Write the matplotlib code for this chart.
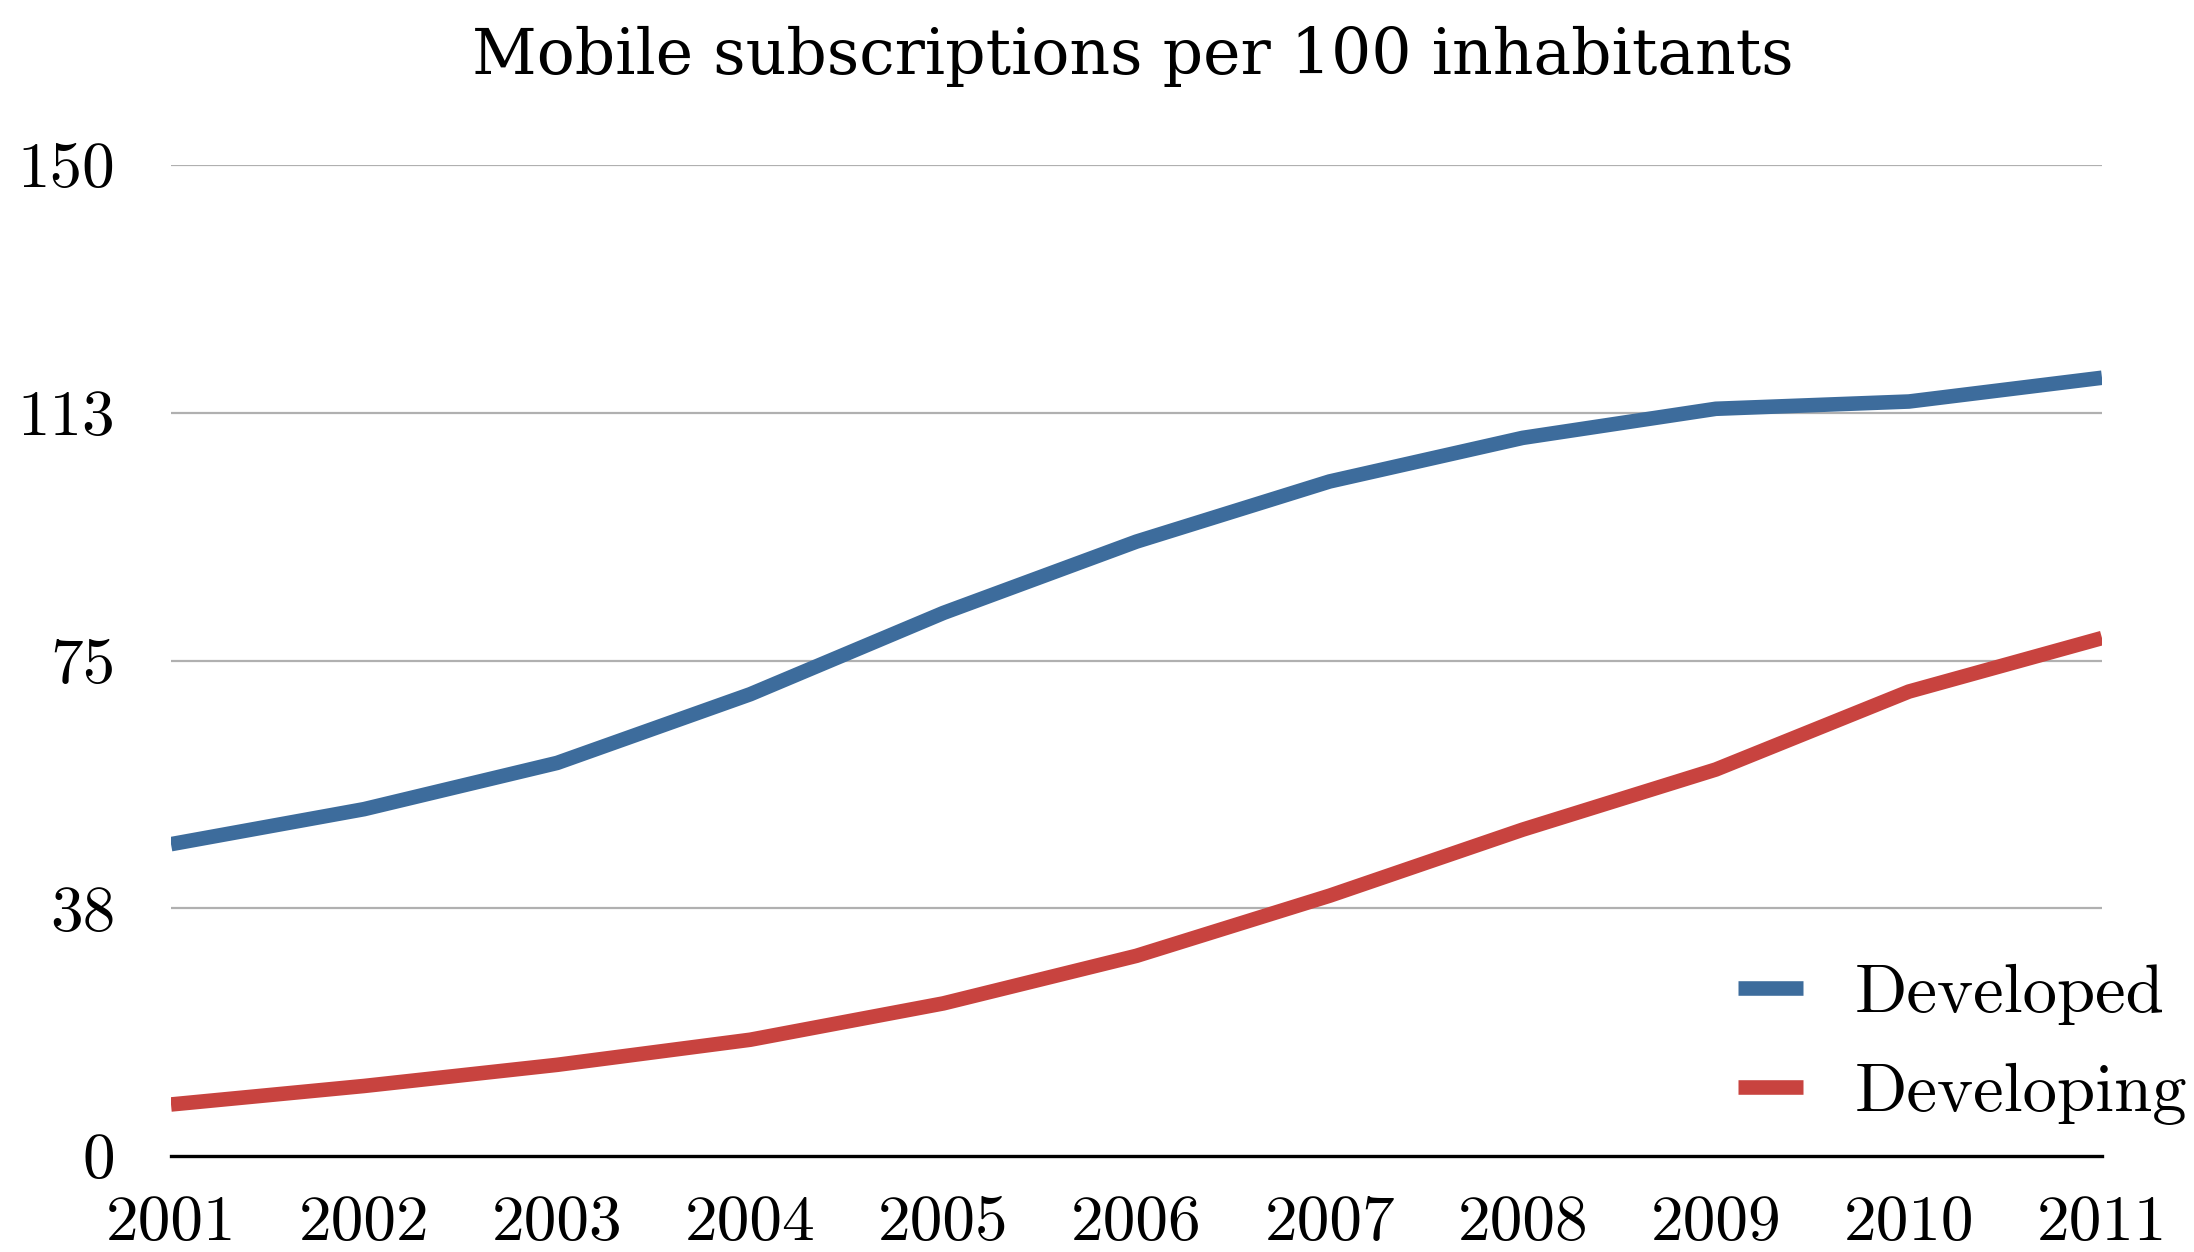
import matplotlib
matplotlib.use("Agg")
import matplotlib.pyplot as plt

years = [2001, 2002, 2003, 2004, 2005, 2006, 2007, 2008, 2009, 2010, 2011]
developed = [47.2, 52.5, 59.5, 69.9, 82.2, 93.0, 102.1, 108.7, 113.1, 114.2, 117.8]
developing = [7.8, 10.6, 13.8, 17.6, 23.1, 30.3, 39.4, 49.4, 58.5, 70.3, 78.4]
ytick_vals = [0, 37.5, 75, 112.5, 150]
ytick_labels = ["0", "38", "75", "113", "150"]
title = "Mobile subscriptions per 100 inhabitants"

plt.rcParams['font.family'] = ['cmr10', 'DejaVu Serif']
plt.rcParams['axes.formatter.use_mathtext'] = True

W, H = 2194, 1252
fig = plt.figure(figsize=(W / 100, H / 100), dpi=100)
ax = fig.add_axes([171 / W, 1 - 1156 / H, (2102 - 171) / W, (1156 - 165) / H])

ax.plot(years, developed, color="#3D6C9C", lw=10.5, solid_capstyle="butt", label="Developed", zorder=3)
ax.plot(years, developing, color="#C8433F", lw=10.5, solid_capstyle="butt", label="Developing", zorder=3)

ax.set_xlim(2001, 2011)
ax.set_ylim(0, 150)
ax.set_yticks(ytick_vals)
ax.set_yticklabels(ytick_labels)
ax.set_xticks(years)
ax.set_xticklabels([str(y) for y in years])
for y in ytick_vals[1:]:
    ax.axhline(y, color="#B0B0B0", lw=1.6, zorder=1)
ax.axhline(0, color="black", lw=2.4, zorder=2, clip_on=False)

for s in ax.spines.values():
    s.set_visible(False)
ax.tick_params(axis="both", length=0, labelsize=47)
ax.tick_params(axis="y", pad=40)
ax.tick_params(axis="x", pad=28)

fig.text(1133 / W, 1 - 56 / H, title, ha="center", va="center", fontsize=45.5,
         family=["DejaVu Serif"])

leg = ax.legend(loc="lower left", bbox_to_anchor=(1676 / W, 1 - 1187 / H), bbox_transform=fig.transFigure,
                frameon=False, fontsize=49.5, handlelength=0.95, handletextpad=0.75, labelspacing=0.55)

fig.savefig("out.png", dpi=100)
